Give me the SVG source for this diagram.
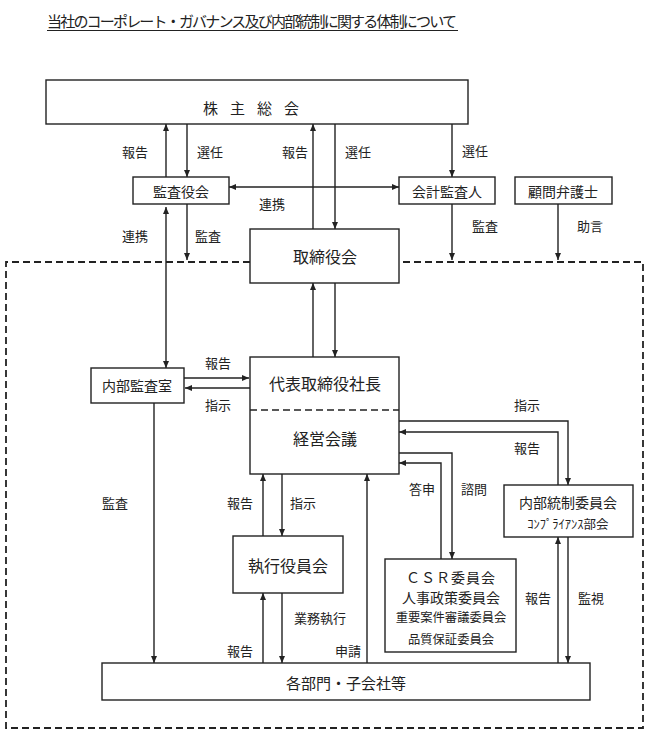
<svg xmlns="http://www.w3.org/2000/svg" width="648" height="734" viewBox="0 0 648 734">
<style>
text{font-family:"Noto Sans CJK JP","Noto Sans",sans-serif;fill:#222;text-anchor:middle;dominant-baseline:central}
.box{fill:#fff;stroke:#222;stroke-width:1.4}
.c{fill:none;stroke:#222;stroke-width:1.4}
.e{marker-end:url(#ah)}
.b{marker-start:url(#ah);marker-end:url(#ah)}
.lbl{font-size:13px}
.n14{font-size:14px}
.n16{font-size:16px}
.dash{fill:none;stroke:#222;stroke-width:1.8;stroke-dasharray:7 4}
</style>
<defs>
<marker id="ah" markerUnits="userSpaceOnUse" markerWidth="8" markerHeight="8" refX="7" refY="3" orient="auto-start-reverse">
<path d="M0,0 L7,3 L0,6 z" fill="#222"/>
</marker>
</defs>
<rect width="648" height="734" fill="#fff"/>
<g id="title">
<text x="252" y="20" style="font-size:15px" textLength="410">当社のコーポレート・ガバナンス及び内部統制に関する体制について</text>
<line x1="47" y1="30.5" x2="458" y2="30.5" stroke="#222" stroke-width="1"/>
</g>
<path id="boundary" class="dash" d="M250,262 H6 V728 H643 V262 H399"/>
<g id="connectors">
<path class="c e" d="M166,177 V124"/>
<path class="c e" d="M187,124 V177"/>
<path class="c e" d="M313,229 V124"/>
<path class="c e" d="M335,124 V229"/>
<path class="c e" d="M452,124 V177"/>
<path class="c b" d="M229,187 H399"/>
<path class="c b" d="M166,207 V368"/>
<path class="c e" d="M187,204 V260"/>
<path class="c e" d="M452,204 V260"/>
<path class="c e" d="M558,204 V260"/>
<path class="c e" d="M313,357 V283"/>
<path class="c e" d="M335,283 V357"/>
<path class="c e" d="M184,378 H249"/>
<path class="c e" d="M250,388 H185"/>
<path class="c e" d="M154,403 V663"/>
<path class="c e" d="M263,536 V474"/>
<path class="c e" d="M282,474 V536"/>
<path class="c e" d="M263,663 V593"/>
<path class="c e" d="M282,593 V663"/>
<path class="c e" d="M367,663 V474"/>
<path class="c e" d="M399,453 H452 V559"/>
<path class="c e" d="M441,559 V463 H399"/>
<path class="c e" d="M399,421 H568 V485"/>
<path class="c e" d="M558,485 V432 H399"/>
<path class="c e" d="M558,663 V537"/>
<path class="c e" d="M568,537 V663"/>
<g class="lbl">
<text x="135" y="151">報告</text>
<text x="210" y="151">選任</text>
<text x="295" y="151">報告</text>
<text x="358" y="151">選任</text>
<text x="475" y="150">選任</text>
<text x="272" y="203">連携</text>
<text x="135" y="235">連携</text>
<text x="208" y="235">監査</text>
<text x="485" y="225">監査</text>
<text x="590" y="225">助言</text>
<text x="218" y="362">報告</text>
<text x="218" y="404">指示</text>
<text x="115" y="502">監査</text>
<text x="240" y="502">報告</text>
<text x="303" y="502">指示</text>
<text x="240" y="650">報告</text>
<text x="320" y="617">業務執行</text>
<text x="348" y="650">申請</text>
<text x="422" y="488">答申</text>
<text x="474" y="488">諮問</text>
<text x="527" y="404">指示</text>
<text x="527" y="447">報告</text>
<text x="538" y="597">報告</text>
<text x="591" y="597">監視</text>
</g>
</g>
<g id="shareholders">
<rect class="box" x="46" y="80" width="422" height="44"/>
<text x="257" y="107" style="font-size:15px;letter-spacing:12px">株主総会</text>
</g>
<g id="auditors">
<rect class="box" x="133" y="177" width="96" height="27"/>
<text class="n14" x="181" y="191">監査役会</text>
</g>
<g id="accounting-auditor">
<rect class="box" x="399" y="177" width="96" height="27"/>
<text class="n14" x="447" y="191">会計監査人</text>
</g>
<g id="legal-advisor">
<rect class="box" x="515" y="177" width="97" height="27"/>
<text class="n14" x="563" y="191">顧問弁護士</text>
</g>
<g id="board">
<rect class="box" x="250" y="229" width="149" height="54"/>
<text class="n16" x="325" y="256">取締役会</text>
</g>
<g id="president">
<rect class="box" x="250" y="357" width="149" height="117"/>
<line x1="250" y1="410" x2="399" y2="410" stroke="#222" stroke-width="1.4" stroke-dasharray="7 4"/>
<text class="n16" x="325" y="383">代表取締役社長</text>
<text class="n16" x="325" y="438">経営会議</text>
</g>
<g id="internal-audit">
<rect class="box" x="91" y="368" width="93" height="35"/>
<text class="n14" x="137" y="385">内部監査室</text>
</g>
<g id="executive-officers">
<rect class="box" x="233" y="536" width="110" height="57"/>
<text class="n16" x="288" y="565">執行役員会</text>
</g>
<g id="committees">
<rect class="box" x="385" y="559" width="131" height="93"/>
<text class="n14" x="451" y="577" style="letter-spacing:1px">ＣＳＲ委員会</text>
<text class="n14" x="451" y="597">人事政策委員会</text>
<text x="451" y="617" style="font-size:12.3px">重要案件審議委員会</text>
<text x="451" y="639" style="font-size:12.3px">品質保証委員会</text>
</g>
<g id="internal-control">
<rect class="box" x="504" y="485" width="129" height="52"/>
<text class="n14" x="568" y="502">内部統制委員会</text>
<text x="568" y="523" style="font-size:12.5px">ｺﾝﾌﾟﾗｲｱﾝｽ部会</text>
</g>
<g id="departments">
<rect class="box" x="102" y="663" width="488" height="37"/>
<text x="346" y="682" style="font-size:15px">各部門・子会社等</text>
</g>
</svg>
